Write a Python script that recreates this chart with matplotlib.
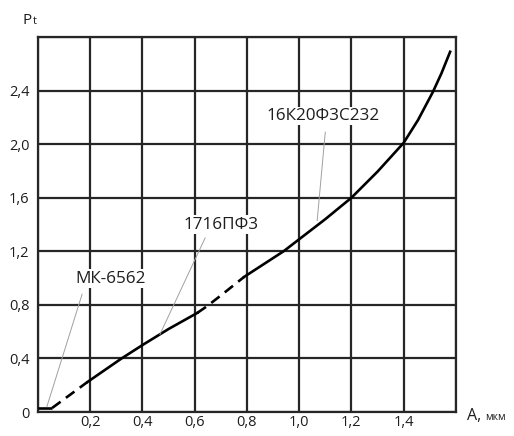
import matplotlib
matplotlib.use("Agg")
import matplotlib.pyplot as plt

plt.rcParams["font.family"] = ["Open Sans", "DejaVu Sans"]

# curve pieces: solid / dashed alternate
flat_x = [0.0, 0.054]
flat_y = [0.03, 0.03]
dash1_x = [0.054, 0.19]
dash1_y = [0.03, 0.225]
solid1_x = [0.19, 0.32, 0.4, 0.5, 0.61]
solid1_y = [0.225, 0.4, 0.5, 0.62, 0.74]
dash2_x = [0.61, 0.647, 0.7, 0.79]
dash2_y = [0.74, 0.79, 0.87, 1.01]
solid2_x = [0.79, 0.865, 0.94, 1.0, 1.1, 1.2, 1.3, 1.4, 1.455, 1.512,
            1.545, 1.578]
solid2_y = [1.01, 1.105, 1.2, 1.29, 1.44, 1.6, 1.795, 2.01, 2.18, 2.39,
            2.53, 2.69]

x_ticks = [0.2, 0.4, 0.6, 0.8, 1.0, 1.2, 1.4]
x_labels = ["0,2", "0,4", "0,6", "0,8", "1,0", "1,2", "1,4"]
y_ticks = [0.0, 0.4, 0.8, 1.2, 1.6, 2.0, 2.4]
y_labels = ["0", "0,4", "0,8", "1,2", "1,6", "2,0", "2,4"]

# label text, text position, leader start, leader end
machines = ["МК-6562", "1716ПФ3", "16К20Ф3С232"]
text_pos = [(0.276, 0.995), (0.70, 1.40), (1.09, 2.21)]
leader_from = [(0.169, 0.88), (0.64, 1.30), (1.10, 2.09)]
leader_to = [(0.034, 0.04), (0.467, 0.58), (1.069, 1.43)]

fig = plt.figure(figsize=(5.14, 4.36), dpi=100)
ax = fig.add_axes([0.0739, 0.055, 0.813, 0.86])

ax.set_xlim(0, 1.6)
ax.set_ylim(0, 2.8)
ax.set_xticks([i * 0.2 for i in range(9)])
ax.set_yticks([i * 0.4 for i in range(8)])
ax.grid(True, color="#262626", lw=1.6)
ax.set_axisbelow(True)
for s in ax.spines.values():
    s.set_color("#262626")
    s.set_linewidth(1.6)

ax.tick_params(length=0, labelsize=10.5, colors="#1e1e1e")
ax.tick_params(axis="x", pad=2.5)
ax.tick_params(axis="y", pad=6)
ax.set_xticklabels([""] + x_labels + [""])
ax.set_yticklabels(y_labels + [""])

lw = 1.9
ax.plot(flat_x, flat_y, color="black", lw=lw, solid_capstyle="butt", zorder=3)
ax.plot(dash1_x, dash1_y, color="black", lw=lw, ls=(0, (4, 2.5)), zorder=3)
ax.plot(solid1_x, solid1_y, color="black", lw=lw, zorder=3)
ax.plot(dash2_x, dash2_y, color="black", lw=lw, ls=(0, (4, 2.5)), zorder=3)
ax.plot(solid2_x, solid2_y, color="black", lw=lw, zorder=3)

for name, tp, lf, lt in zip(machines, text_pos, leader_from, leader_to):
    ax.plot([lf[0], lt[0]], [lf[1], lt[1]], color="#a0a0a0", lw=0.7, zorder=4)
    ax.text(tp[0], tp[1], name, ha="center", va="center", fontsize=12.3,
            color="#1e1e1e", zorder=5,
            bbox=dict(facecolor="white", edgecolor="none", pad=1.0))

fig.text(0.043, 0.945, "P", fontsize=11, color="#1e1e1e", ha="left", va="baseline")
fig.text(0.063, 0.945, "t", fontsize=8, color="#1e1e1e", ha="left", va="baseline")
fig.text(0.908, 0.036, "A,", fontsize=11.5, color="#1e1e1e", ha="left", va="baseline")
fig.text(0.944, 0.036, "мкм", fontsize=7.5, color="#1e1e1e", ha="left", va="baseline")

fig.savefig("out.png", dpi=100)
